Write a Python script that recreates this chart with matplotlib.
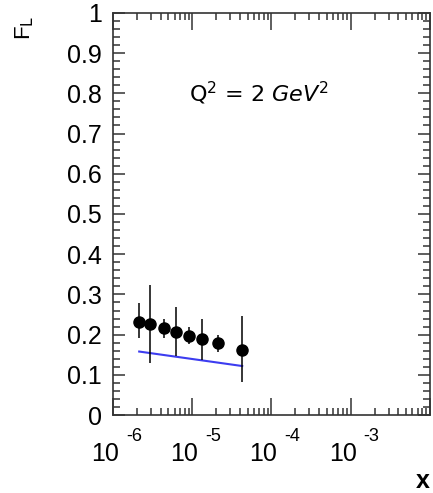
import matplotlib
matplotlib.use("Agg")
import matplotlib.pyplot as plt
import matplotlib.transforms as mtransforms
from matplotlib.ticker import LogLocator, MultipleLocator, NullFormatter

plt.rcParams["font.family"] = ["Liberation Sans", "DejaVu Sans"]
plt.rcParams["mathtext.fontset"] = "dejavusans"

# F_L measurements at Q^2 = 2 GeV^2
x_vals = [2.14e-6, 2.92e-6, 4.4e-6, 6.26e-6, 8.98e-6, 1.32e-5, 2.12e-5, 4.27e-5]
fl_vals = [0.232, 0.226, 0.216, 0.207, 0.197, 0.189, 0.178, 0.163]
err_up = [0.047, 0.097, 0.024, 0.061, 0.021, 0.051, 0.021, 0.083]
err_down = [0.041, 0.096, 0.025, 0.060, 0.020, 0.052, 0.021, 0.080]

# model curve
model_x = [2.14e-6, 4.27e-5]
model_fl = [0.158, 0.122]

decades = [-6, -5, -4, -3]

fig = plt.figure(figsize=(4.33, 4.93), dpi=100)
ax = fig.add_axes([0.261, 0.158, 0.732, 0.816])

ax.errorbar(x_vals, fl_vals, yerr=[err_down, err_up], fmt="o", color="black",
            markersize=8, elinewidth=1.1, capsize=0, zorder=3)
ax.plot(model_x, model_fl, color="#3c3cf0", linewidth=1.5, zorder=2)

ax.set_xscale("log")
ax.set_xlim(1e-6, 1e-2)
ax.set_ylim(0, 1)

ax.xaxis.set_major_locator(LogLocator(base=10, numticks=10))
ax.xaxis.set_minor_locator(LogLocator(base=10, subs=range(2, 10), numticks=20))
ax.xaxis.set_major_formatter(NullFormatter())
ax.xaxis.set_minor_formatter(NullFormatter())
ax.yaxis.set_minor_locator(MultipleLocator(0.02))
ax.set_yticks([i / 10 for i in range(11)])
ax.set_yticklabels(["0"] + [f"0.{i}" for i in range(1, 10)] + ["1"])

ax.tick_params(axis="both", which="both", direction="in", top=True, right=True,
               width=1.1, color="#333333")
ax.tick_params(axis="x", which="major", length=12)
ax.tick_params(axis="x", which="minor", length=5)
ax.tick_params(axis="y", which="major", length=8.5, labelsize=18, pad=8)
ax.tick_params(axis="y", which="minor", length=5)
for sp in ax.spines.values():
    sp.set_linewidth(1.2)
    sp.set_color("#333333")

# decade labels: "10" with a raised exponent
trans = mtransforms.blended_transform_factory(ax.transData, ax.transAxes)
for d in decades:
    base = mtransforms.offset_copy(trans, fig=fig, x=6, y=-27, units="dots")
    ax.text(10.0 ** d, 0, "10", transform=base, ha="right", va="top", fontsize=18)
    sup = mtransforms.offset_copy(trans, fig=fig, x=13, y=-13, units="dots")
    ax.text(10.0 ** d, 0, f"-{-d}", transform=sup, ha="left", va="top", fontsize=13)

ax.text(0.46, 0.80, r"Q$^2$ = 2 $\mathit{GeV}^2$", transform=ax.transAxes,
        ha="center", va="center", fontsize=16, family="DejaVu Sans")

fig.text(25 / 433, 1 - 28 / 493, r"F$_{\rm L}$", rotation=90, ha="center",
         va="center", fontsize=16)
fig.text(423 / 433, 1 - 481 / 493, "x", ha="center", va="center",
         fontsize=18, fontweight="bold")

fig.savefig("out.png", dpi=100)
